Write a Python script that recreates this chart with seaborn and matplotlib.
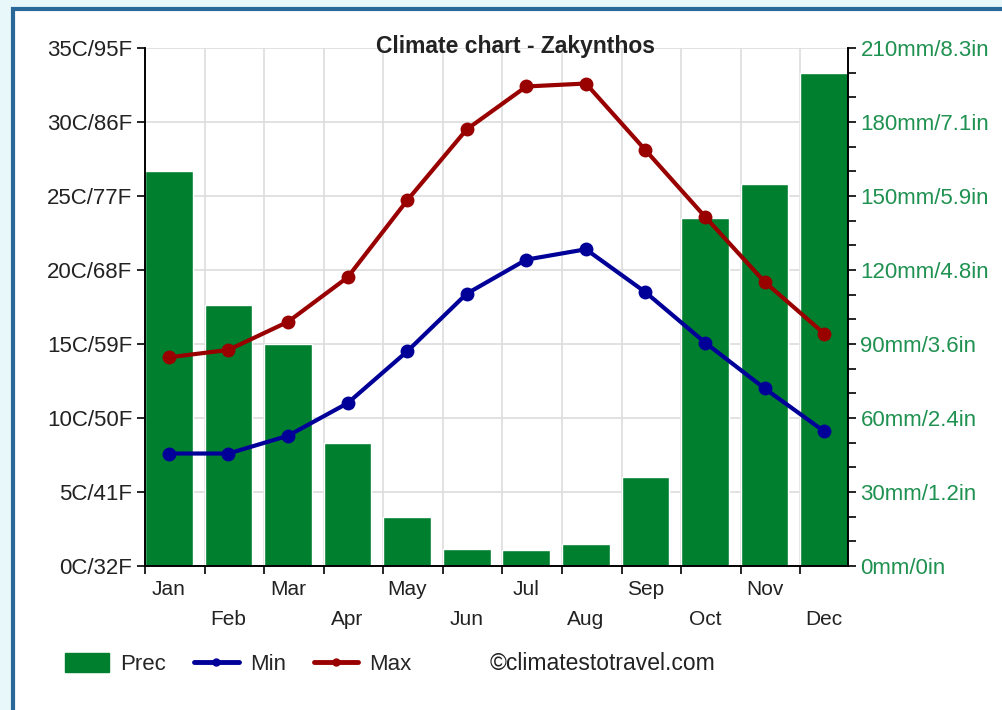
import numpy as np
import pandas as pd
import seaborn as sns
import matplotlib.pyplot as plt
from matplotlib.patches import Patch, Rectangle
from matplotlib.lines import Line2D
from matplotlib.ticker import FixedLocator, MultipleLocator

# data
months = ["Jan", "Feb", "Mar", "Apr", "May", "Jun", "Jul", "Aug", "Sep", "Oct", "Nov", "Dec"]
prec = [160, 106, 90, 50, 20, 7, 6.5, 9, 36, 141, 155, 200]
t_min = [7.6, 7.6, 8.8, 11.0, 14.5, 18.4, 20.7, 21.4, 18.5, 15.1, 12.0, 9.1]
t_max = [14.1, 14.6, 16.5, 19.5, 24.7, 29.5, 32.4, 32.6, 28.1, 23.6, 19.2, 15.7]
temp_labels = ["0C/32F", "5C/41F", "10C/50F", "15C/59F", "20C/68F", "25C/77F", "30C/86F", "35C/95F"]
prec_labels = ["0mm/0in", "30mm/1.2in", "60mm/2.4in", "90mm/3.6in", "120mm/4.8in",
               "150mm/5.9in", "180mm/7.1in", "210mm/8.3in"]

GREEN = "#007f2f"
BLUE = "#000099"
RED = "#990000"
TXT = "#222222"
RTXT = "#1f9150"
FS = 16

sns.set_theme(style="white")
plt.rcParams["font.family"] = ["Liberation Sans", "DejaVu Sans"]

df = pd.DataFrame({"month": months, "prec": prec, "tmin": t_min, "tmax": t_max})
df["pos"] = np.arange(len(df))

fig = plt.figure(figsize=(10.02, 7.10), dpi=100, facecolor="#e8f7fa")
fig.patches.append(Rectangle((13 / 1002, -0.1), 1.2, 1.1 - 9 / 710, transform=fig.transFigure,
                             facecolor="white", edgecolor="#2a6899", lw=3, zorder=-5))

ax = fig.add_axes([145 / 1002, 1 - 566 / 710, 703 / 1002, 518 / 710])
sns.barplot(data=df, x="month", y="prec", color=GREEN, saturation=1, width=0.8, ax=ax)
ax.set_xlim(-0.4, 11.4)
ax.set_ylim(0, 210)
ax.set_xlabel("")
ax.set_ylabel("")

axt = ax.twinx()
sns.lineplot(data=df, x="pos", y="tmin", color=BLUE, lw=3, marker="o", markersize=10,
             markeredgewidth=0, ax=axt)
sns.lineplot(data=df, x="pos", y="tmax", color=RED, lw=3, marker="o", markersize=10,
             markeredgewidth=0, ax=axt)
axt.set_ylim(0, 35)
axt.set_xlim(-0.4, 11.4)
axt.set_xlabel("")
axt.set_ylabel("")

# swap sides: temperature left, precipitation right
ax.yaxis.tick_right()
axt.yaxis.tick_left()

ax.yaxis.set_major_locator(FixedLocator(np.arange(0, 211, 30)))
ax.yaxis.set_minor_locator(MultipleLocator(10))
ax.set_yticklabels(prec_labels)
ax.tick_params(axis="y", which="major", right=True, left=False, length=6, width=1.2,
               color="black", labelsize=FS, labelcolor=RTXT, pad=3)
ax.tick_params(axis="y", which="minor", right=True, left=False, length=6, width=1.2, color="black")

axt.yaxis.set_major_locator(FixedLocator(np.arange(0, 36, 5)))
axt.set_yticklabels(temp_labels)
axt.tick_params(axis="y", which="major", left=True, right=False, length=6, width=1.2,
                color="black", labelsize=FS, labelcolor=TXT, pad=3)

# month boundaries (bars sit at the left of each slot) as ticks/grid, names on two rows
ax.xaxis.set_major_locator(FixedLocator(np.arange(12) - 0.4))
ax.xaxis.set_minor_locator(FixedLocator(np.arange(12)))
ax.set_xticklabels([""] * 12)
ax.set_xticklabels([m if i % 2 == 0 else "\n" + m for i, m in enumerate(months)], minor=True)
ax.tick_params(axis="x", which="major", bottom=True, length=6, width=1.2, color="black")
ax.tick_params(axis="x", which="minor", bottom=True, length=0, labelsize=FS - 1, labelcolor=TXT, pad=10)
for lab in ax.get_xticklabels(minor=True):
    lab.set_linespacing(1.75)

ax.grid(axis="both", which="major", color="#dddddd", lw=1.2)
ax.set_axisbelow(True)

for a in (ax, axt):
    a.spines["top"].set_visible(False)
    for s in ("left", "right", "bottom"):
        a.spines[s].set_color("black")
        a.spines[s].set_linewidth(1.2)

fig.text(515 / 1002, 1 - 46 / 710, "Climate chart - Zakynthos", ha="center", va="center",
         fontsize=FS + 0.5, fontweight="bold", color=TXT)

handles = [Patch(facecolor=GREEN, edgecolor=GREEN),
           Line2D([], [], color=BLUE, lw=3.5, marker="o", markersize=5),
           Line2D([], [], color=RED, lw=3.5, marker="o", markersize=5)]
fig.legend(handles, ["Prec", "Min", "Max"], loc="center left",
           bbox_to_anchor=(45 / 1002, 1 - 664 / 710), ncol=3, frameon=False, fontsize=FS,
           handlelength=2.0, handleheight=0.9, handletextpad=0.5, columnspacing=1.25)
fig.text(490 / 1002, 1 - 664 / 710, "©climatestotravel.com", ha="left", va="center",
         fontsize=FS + 0.5, color=TXT)

fig.savefig("out.png", dpi=100, facecolor=fig.get_facecolor())
